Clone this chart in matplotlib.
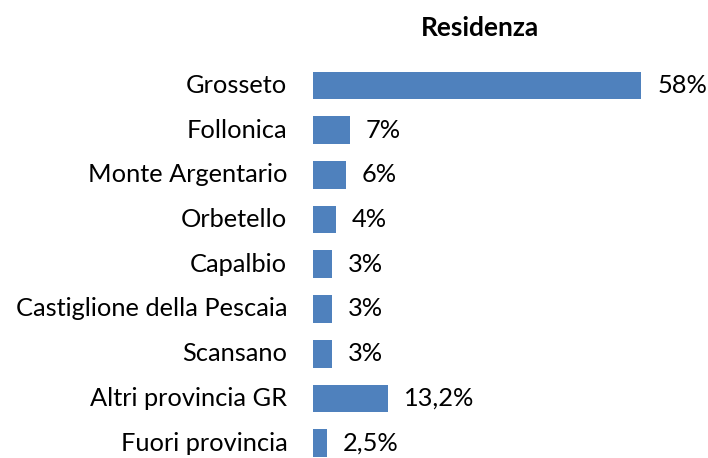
import matplotlib
matplotlib.use("Agg")
import matplotlib.pyplot as plt

categories = ["Grosseto", "Follonica", "Monte Argentario", "Orbetello", "Capalbio",
              "Castiglione della Pescaia", "Scansano", "Altri provincia GR", "Fuori provincia"]
values = [58.0, 6.5, 5.8, 4.1, 3.3, 3.3, 3.3, 13.2, 2.5]
value_labels = ["58%", "7%", "6%", "4%", "3%", "3%", "3%", "13,2%", "2,5%"]

plt.rcParams['font.family'] = ['Lato', 'DejaVu Sans']

W, H = 708, 458
fig = plt.figure(figsize=(W / 100, H / 100), dpi=100)
# axes placed in pixel terms: zero at x=313, rows spaced ~44.7 px starting at y=85.5
row = 44.7
top = 85.5 - row / 2
bottom = top + row * len(categories)
ax = fig.add_axes([313 / W, (H - bottom) / H, 368 / W, (bottom - top) / H])

ys = range(len(categories))
ax.barh(ys, values, height=0.62, color="#4F81BD")
ax.set_xlim(0, 65)
ax.set_ylim(len(categories) - 0.5, -0.5)

fs = 18.3
for y, v, lab in zip(ys, values, value_labels):
    ax.annotate(lab, (v, y), xytext=(11.5, 0), textcoords="offset points",
                va="center", ha="left", fontsize=fs, color="#000000")
    ax.annotate(categories[y], (0, y), xytext=(-18.5, 0), textcoords="offset points",
                va="center", ha="right", fontsize=fs, color="#000000")

ax.axis("off")
fig.text(480 / W, 1 - 28 / H, "Residenza", ha="center", va="center",
         fontsize=19, fontweight="bold")

fig.savefig("out.png", dpi=100)
